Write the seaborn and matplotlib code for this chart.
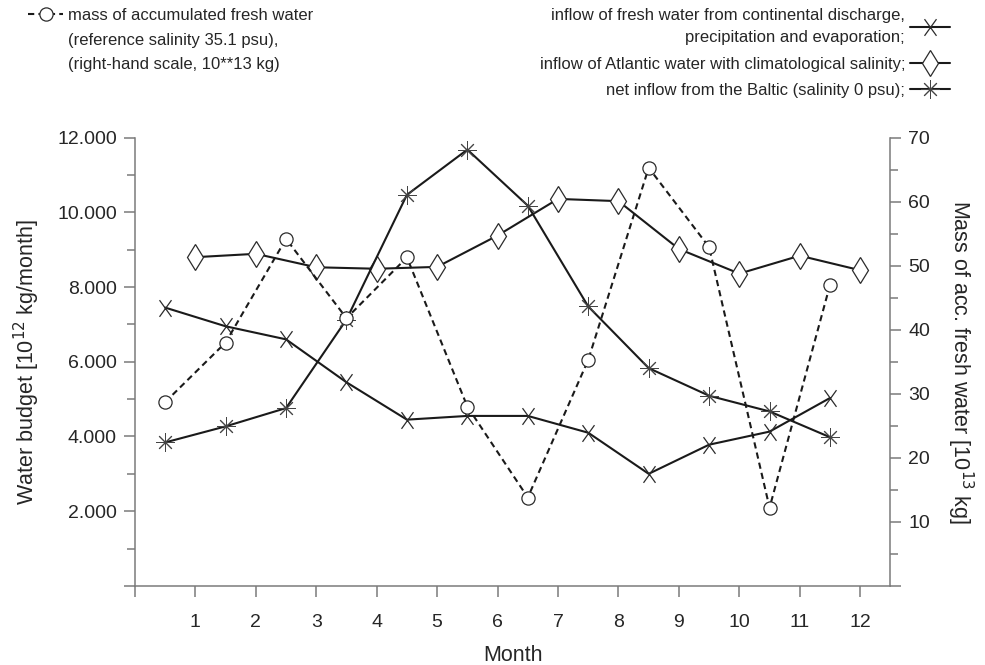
import numpy as np
import pandas as pd
import matplotlib
matplotlib.use("Agg")
import matplotlib.pyplot as plt
import seaborn as sns
from matplotlib.path import Path
from matplotlib.lines import Line2D
from matplotlib.ticker import MultipleLocator, FuncFormatter

sns.set_theme(style="ticks")
plt.rcParams['font.family'] = ['Liberation Sans', 'DejaVu Sans']

# monthly values
months = [1, 2, 3, 4, 5, 6, 7, 8, 9, 10, 11, 12]
months_mid = [0.5, 1.5, 2.5, 3.5, 4.5, 5.5, 6.5, 7.5, 8.5, 9.5, 10.5, 11.5]
discharge = [7450, 6950, 6600, 5450, 4450, 4550, 4550, 4100, 3000, 3780, 4130, 5030]
atlantic = [8800, 8890, 8530, 8490, 8540, 9380, 10360, 10300, 9020, 8360, 8840, 8450]
baltic = [3840, 4270, 4760, 7130, 10470, 11680, 10180, 7480, 5830, 5090, 4670, 3980]
fresh_mass = [28.7, 38.0, 54.2, 41.8, 51.3, 28.0, 13.8, 35.3, 65.3, 52.9, 12.2, 47.0]

df_mid = pd.DataFrame({"month": months_mid, "discharge": discharge,
                       "baltic": baltic, "mass": fresh_mass})
df_int = pd.DataFrame({"month": months, "atlantic": atlantic})

# tall thin X marker
xmark = Path([(-0.36, -0.5), (0.36, 0.5), (-0.36, 0.5), (0.36, -0.5)],
             [Path.MOVETO, Path.LINETO, Path.MOVETO, Path.LINETO])

line_c = "#1a1a1a"
edge_c = "#2b2b2b"
axis_c = "#7a7a7a"
text_c = "#262626"

fig = plt.figure(figsize=(9.85, 6.65), dpi=100)
ax = fig.add_axes([0.137, 0.119, 0.767, 0.674])
ax2 = ax.twinx()

sns.lineplot(data=df_mid, x="month", y="discharge", ax=ax, color=line_c, lw=1.5,
             marker=xmark, ms=12, mec=edge_c, mfc="none", mew=0.9)
sns.lineplot(data=df_int, x="month", y="atlantic", ax=ax, color=line_c, lw=1.5,
             marker="d", ms=13.5, mec=edge_c, mfc="white", mew=0.9)
sns.lineplot(data=df_mid, x="month", y="baltic", ax=ax, color=line_c, lw=1.5,
             marker=(8, 2, 0), ms=13, mec="#444444", mew=0.7)
sns.lineplot(data=df_mid, x="month", y="mass", ax=ax2, color=line_c, lw=1.5,
             linestyle=(0, (3, 2)), marker="o", ms=9.5, mec=edge_c, mfc="white", mew=0.9)

l_dis, l_atl, l_bal = ax.lines[:3]
l_mass = ax2.lines[0]

ax.set_xlim(0, 12.5)
ax.set_ylim(0, 12000)
ax2.set_ylim(0, 70)

ax.xaxis.set_major_locator(MultipleLocator(1))
ax.yaxis.set_major_locator(MultipleLocator(2000))
ax.yaxis.set_minor_locator(MultipleLocator(1000))
ax2.yaxis.set_major_locator(MultipleLocator(10))
ax2.yaxis.set_minor_locator(MultipleLocator(5))

ax.xaxis.set_major_formatter(FuncFormatter(lambda v, p: "" if v == 0 else f"{v:.0f}"))
ax.yaxis.set_major_formatter(FuncFormatter(
    lambda v, p: "" if v == 0 else f"{v:,.0f}".replace(",", ".")))
ax2.yaxis.set_major_formatter(FuncFormatter(lambda v, p: "" if v == 0 else f"{v:.0f}"))

for s in ["top", "right"]:
    ax.spines[s].set_visible(False)
for s in ["top", "left", "bottom"]:
    ax2.spines[s].set_visible(False)
for a in (ax, ax2):
    for sp in a.spines.values():
        sp.set_color(axis_c)
        sp.set_linewidth(1.1)

ax.tick_params(axis="both", which="major", direction="out", length=8, width=1.1,
               color=axis_c, labelcolor=text_c, labelsize=14)
ax.tick_params(axis="y", which="major", pad=5)
ax.tick_params(axis="x", which="major", length=8, pad=12)
ax.tick_params(axis="y", which="minor", direction="out", length=6, width=1.1, color=axis_c)
ax2.tick_params(axis="y", which="major", direction="out", length=8, width=1.1,
                color=axis_c, labelcolor=text_c, labelsize=14, pad=5)
ax2.tick_params(axis="y", which="minor", direction="out", length=6, width=1.1, color=axis_c)

ax.set_xlabel("Month", fontsize=15.5, color=text_c, labelpad=10)
ax.set_ylabel("Water budget [10$^{12}$ kg/month]", fontsize=15.5, color=text_c, labelpad=11)
ax2.set_ylabel("Mass of acc. fresh water [10$^{13}$ kg]", fontsize=15.5, color=text_c,
               rotation=270, labelpad=32)

blank = Line2D([], [], linestyle="none")
leg1 = fig.legend([l_mass, blank, blank],
                  ["mass of accumulated fresh water",
                   "(reference salinity 35.1 psu),",
                   "(right-hand scale, 10**13 kg)"],
                  loc="upper left", bbox_to_anchor=(28 / 985, 1 - 8 / 665),
                  frameon=False, fontsize=12, handlelength=2.1, handletextpad=0.3,
                  labelspacing=0.58, borderpad=0, borderaxespad=0, labelcolor=text_c)
leg2 = fig.legend([l_dis, l_atl, l_bal],
                  ["inflow of fresh water from continental discharge,\nprecipitation and evaporation;",
                   "inflow of Atlantic water with climatological salinity;",
                   "net inflow from the Baltic (salinity 0 psu);"],
                  loc="upper right", bbox_to_anchor=(950 / 985, 1 - 8 / 665),
                  frameon=False, fontsize=12, markerfirst=False, handlelength=2.4,
                  handletextpad=0.3, labelspacing=0.68, borderpad=0, borderaxespad=0,
                  labelcolor=text_c)
for t in leg2.get_texts():
    t.set_multialignment("right")
    t.set_linespacing(1.6)

fig.savefig("out.png", dpi=100)
